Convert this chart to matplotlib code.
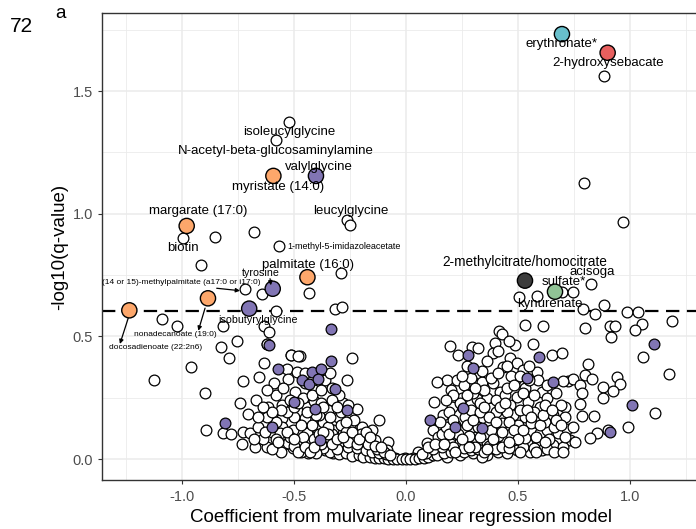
import matplotlib
matplotlib.use("Agg")
import matplotlib.pyplot as plt
from matplotlib.patches import Rectangle

plt.rcParams['font.family'] = ['Liberation Sans', 'DejaVu Sans']

# ---------------- data ----------------
white_x = [0.882, 0.793, 0.967, -0.524, -0.580, -0.997, -0.851, -0.677, -0.566, -0.262, -0.250,
           -0.915, -0.292, -0.719, -0.644, -0.434, -0.580, -0.317, -0.287, -1.088, -1.022, -0.816,
           -0.632, -0.610, -0.753, -0.622, -0.826, -0.792, -0.513, -0.473, -0.960, -1.124, -0.897,
           -0.894, -0.633,
           0.695, 0.747, 0.824, 0.506, 0.583, 0.792, 0.884, 0.844, 0.985, 1.037, 1.052, 1.189, 0.531,
           0.613, 0.799, 0.911, 0.933, 1.020, 0.417, 0.428, 0.915,
           0.397, 0.196, 0.234, 0.293, 0.323, 0.390, 0.487, 0.568, 0.650, 0.435, 0.464, 0.494, 0.524,
           0.182, 0.226, 0.301, 0.338, 0.390, 0.420, 0.487, 0.583, 0.591, 0.531, 0.606, 0.494, 0.546,
           0.315, 0.204, 0.375, 0.464, 0.598, 0.658, 0.167, 0.263, 0.345, 0.420, 0.479, 0.531, 0.249,
           0.301, 0.390, 0.449, 0.509, 0.561, 0.598, 0.628, 0.680, 0.196, 0.271, 0.330, 0.420, 0.472,
           0.539, 0.598, 0.658, 0.167, 0.241, 0.301, 0.360, 0.412, 0.449, 0.494, 0.554, 0.606, 0.182,
           0.338,
           0.695, 0.814, 0.725, 0.747, 0.799, 0.832, 0.777, 0.881, 0.943, 0.955, 0.923, 0.784, 0.878,
           0.777, 0.710, 1.112, 0.710, 0.784, 0.839, 0.993, 0.717, 0.747, 0.851, 0.903, 0.821, 0.732,
           0.702, 0.754, 1.060, 1.174, 0.702,
           0.137, 0.125, 0.055, 0.092, 0.122, 0.115, 0.144, 0.033,
           -0.622, -0.515, -0.481, -0.530, -0.488, -0.726, -0.656, -0.589, -0.525, -0.362, -0.741,
           -0.704, -0.670, -0.615, -0.555, -0.496, -0.443, -0.411, -0.555, -0.555, -0.815, -0.783,
           -0.726, -0.696, -0.733, -0.674, -0.619, -0.600, -0.548, -0.503, -0.503, -0.473, -0.443,
           -0.436, -0.399, -0.369, -0.362, -0.562, -0.525, -0.417, -0.451,
           -0.240, -0.265, -0.339, -0.332, -0.280, -0.220, -0.302, -0.119, -0.325, -0.250, -0.198,
           -0.153, -0.250, -0.190, -0.138, -0.079, -0.287, -0.228, -0.175, -0.124, -0.049, -0.004,
           -0.325, -0.086,
           -0.34, -0.30, -0.27, -0.24, -0.21, -0.19, -0.16, -0.14, -0.12, -0.10, -0.08, -0.06, -0.04,
           -0.02, 0.00, 0.02, 0.04, 0.06, 0.08, 0.10, 0.12, 0.14, 0.17, 0.20, 0.23, 0.26, 0.29, 0.32,
           0.35, 0.38, -0.37, -0.40, -0.45, -0.50,
           -0.30, -0.26, -0.22, -0.18, -0.15, -0.12, -0.09, 0.09, 0.12, 0.16, 0.20, 0.24, 0.28, 0.31,
           0.36, 0.40, 0.44, -0.35, -0.33, -0.29, -0.27, -0.23,
           0.21, 0.26, 0.31, 0.37, 0.40, 0.43, 0.46, 0.52, 0.57, 0.63, 0.23, 0.28, 0.35, 0.41, 0.47,
           0.53, 0.22, 0.27, 0.32, 0.37, 0.43, 0.50, 0.56, 0.62, 0.19, 0.29, 0.33, 0.40, 0.45, 0.51,
           0.57, 0.25, 0.30, 0.36, 0.40, 0.44, 0.52, 0.57, 0.63, 0.20, 0.26, 0.35, 0.45, 0.47, 0.55,
           0.63, 0.67, 0.69, 0.66, 0.64, 0.71,
           -0.38, -0.41, -0.46, -0.52, -0.58, -0.64, -0.35, -0.39, -0.42, -0.47, -0.50, -0.53, -0.58,
           -0.62, -0.66, -0.35, -0.38, -0.46, -0.50, -0.58, -0.62, -0.41, -0.45, -0.55, -0.30, -0.26,
           -0.29, -0.23, -0.27, -0.20, -0.17, -0.30, -0.35, -0.40, -0.47, -0.56, -0.31, -0.26, -0.22,
           -0.13, -0.10, -0.07, 0.07, 0.10, 0.13, 0.16, 0.18, 0.15,
           0.17, 0.19, 0.21, 0.24, 0.27, 0.29, 0.31, 0.33, 0.35, 0.37, 0.38, 0.40, 0.42, 0.44, 0.46,
           0.48, 0.50, 0.52, 0.54, 0.56, 0.58, 0.60, 0.61, 0.62, 0.65, 0.67, 0.69, 0.66, 0.70, 0.62,
           0.58, 0.51, 0.46, 0.43, 0.39, 0.36, 0.33, 0.28, 0.25, 0.22, 0.30, 0.34, 0.38, 0.41, 0.45,
           0.48, 0.51, 0.55, 0.27, 0.25, 0.21, 0.18, 0.46, 0.41, 0.36,
           -0.60, -0.57, -0.53, -0.50, -0.48, -0.45, -0.43, -0.41, -0.39, -0.37, -0.33, -0.31, -0.28,
           -0.24, -0.21, -0.18, -0.16, -0.14, -0.11, -0.34, -0.37, -0.40, -0.44, -0.48, -0.52, -0.56,
           -0.60, -0.64, -0.45, -0.42, -0.38, -0.33, -0.31, -0.68, -0.63, -0.66]
white_y = [1.561, 1.126, 0.966, 1.375, 1.300, 0.901, 0.906, 0.925, 0.868, 0.975, 0.955,
           0.791, 0.760, 0.692, 0.671, 0.675, 0.605, 0.611, 0.619, 0.569, 0.542, 0.542,
           0.542, 0.518, 0.481, 0.468, 0.455, 0.410, 0.423, 0.420, 0.374, 0.322, 0.268,
           0.118, 0.393,
           0.682, 0.682, 0.713, 0.662, 0.664, 0.610, 0.628, 0.591, 0.600, 0.600, 0.550, 0.564, 0.546,
           0.542, 0.532, 0.542, 0.542, 0.525, 0.522, 0.510, 0.496,
           0.472, 0.461, 0.424, 0.458, 0.451, 0.431, 0.465, 0.469, 0.424, 0.376, 0.410, 0.390, 0.363,
           0.322, 0.322, 0.315, 0.315, 0.309, 0.274, 0.322, 0.356, 0.322, 0.288, 0.274, 0.254, 0.234,
           0.243, 0.213, 0.207, 0.220, 0.213, 0.179, 0.179, 0.170, 0.166, 0.172, 0.179, 0.172, 0.118,
           0.118, 0.111, 0.118, 0.105, 0.111, 0.105, 0.118, 0.105, 0.077, 0.071, 0.064, 0.064, 0.071,
           0.064, 0.064, 0.057, 0.023, 0.016, 0.023, 0.016, 0.030, 0.023, 0.037, 0.030, 0.037, 0.009,
           0.009,
           0.431, 0.387, 0.319, 0.325, 0.342, 0.325, 0.302, 0.295, 0.336, 0.306, 0.277, 0.268, 0.247,
           0.224, 0.211, 0.189, 0.170, 0.175, 0.175, 0.132, 0.121, 0.129, 0.105, 0.118, 0.084, 0.077,
           0.050, 0.071, 0.415, 0.345, 0.318,
           0.315, 0.234, 0.030, 0.064, 0.118, 0.016, 0.091, 0.003,
           0.469, 0.424, 0.420, 0.366, 0.356, 0.319, 0.333, 0.308, 0.325, 0.322, 0.230,
           0.182, 0.241, 0.213, 0.220, 0.274, 0.213, 0.238, 0.166, 0.132, 0.105, 0.100,
           0.111, 0.105, 0.061, 0.048, 0.048, 0.111, 0.057, 0.118, 0.043, 0.064, 0.105,
           0.023, 0.125, 0.152, 0.037, 0.105, 0.064, 0.166, 0.166,
           0.410, 0.322, 0.349, 0.288, 0.230, 0.203, 0.170, 0.159, 0.118, 0.132, 0.132,
           0.118, 0.091, 0.084, 0.077, 0.071, 0.043, 0.023, 0.020, 0.016, 0.003, 0.003,
           0.023, 0.037,
           0.030, 0.020, 0.025, 0.012, 0.018, 0.008, 0.010, 0.004, 0.006, 0.003, 0.002, 0.001, 0.001,
           0.000, 0.000, 0.001, 0.002, 0.004, 0.006, 0.010, 0.015, 0.018, 0.025, 0.030, 0.035, 0.028,
           0.035, 0.040, 0.030, 0.045, 0.045, 0.050, 0.040, 0.055,
           0.060, 0.050, 0.045, 0.035, 0.030, 0.025, 0.020, 0.025, 0.040, 0.050, 0.060, 0.070, 0.080,
           0.090, 0.070, 0.090, 0.080, 0.080, 0.100, 0.140, 0.110, 0.090,
           0.050, 0.045, 0.050, 0.055, 0.040, 0.050, 0.045, 0.050, 0.045, 0.040, 0.100, 0.095, 0.100,
           0.095, 0.100, 0.085, 0.140, 0.140, 0.130, 0.140, 0.145, 0.140, 0.145, 0.150, 0.190, 0.200,
           0.190, 0.190, 0.190, 0.200, 0.190, 0.250, 0.270, 0.250, 0.240, 0.260, 0.270, 0.260, 0.250,
           0.280, 0.300, 0.280, 0.290, 0.340, 0.320, 0.300, 0.270, 0.220, 0.130, 0.080, 0.090,
           0.060, 0.080, 0.090, 0.090, 0.080, 0.080, 0.130, 0.180, 0.140, 0.140, 0.170, 0.190, 0.150,
           0.170, 0.130, 0.200, 0.230, 0.250, 0.210, 0.260, 0.280, 0.280, 0.310, 0.290, 0.260, 0.220,
           0.190, 0.160, 0.150, 0.100, 0.060, 0.070, 0.100, 0.025, 0.030, 0.030, 0.040, 0.070, 0.060,
           0.040, 0.030, 0.015, 0.020, 0.050, 0.060, 0.100, 0.130, 0.150,
           0.060, 0.100, 0.160, 0.230, 0.260, 0.330, 0.290, 0.230, 0.210, 0.170, 0.120, 0.150, 0.210,
           0.230, 0.150, 0.120, 0.080, 0.120, 0.200, 0.170, 0.090, 0.140, 0.180, 0.220, 0.200, 0.160,
           0.140, 0.030, 0.030, 0.070, 0.030, 0.030, 0.070, 0.110, 0.080, 0.040, 0.090, 0.050, 0.080,
           0.030, 0.160, 0.360, 0.330, 0.350, 0.380, 0.300, 0.340, 0.380, 0.380, 0.340, 0.260, 0.240,
           0.480, 0.440, 0.400,
           0.040, 0.070, 0.110, 0.080, 0.030, 0.050, 0.030, 0.050, 0.100, 0.110, 0.060, 0.080, 0.090,
           0.110, 0.080, 0.110, 0.090, 0.055, 0.050, 0.170, 0.210, 0.180, 0.190, 0.230, 0.240, 0.200,
           0.190, 0.210, 0.350, 0.260, 0.280, 0.240, 0.210, 0.080, 0.110, 0.170]

purple_x = [-0.612, -0.573, -0.421, -0.381, -0.335, -0.335, -0.466, -0.433, -0.391, -0.499, -0.406,
            -0.600, -0.808, -0.384, -0.317, -0.265, 0.107, 0.278, 0.594, 0.301, 0.539, 0.658,
            0.256, 0.219, 0.338, 1.107, 1.010, 0.911]
purple_y = [0.465, 0.367, 0.356, 0.366, 0.401, 0.531, 0.322, 0.306, 0.325, 0.234, 0.203,
            0.132, 0.145, 0.077, 0.284, 0.200, 0.159, 0.424, 0.415, 0.370, 0.329, 0.315,
            0.207, 0.132, 0.125, 0.467, 0.219, 0.109]

# highlighted metabolites
hl_names = ["erythronate*", "2-hydroxysebacate", "myristate (14:0)", "valylglycine",
            "margarate (17:0)", "palmitate (16:0)", "tyrosine",
            "(14 or 15)-methylpalmitate (a17:0 or i17:0)", "docosadienoate (22:2n6)",
            "isobutyrylglycine", "2-methylcitrate/homocitrate", "sulfate*"]
hl_x = [0.696, 0.900, -0.592, -0.402, -0.979, -0.440, -0.595, -0.884, -1.235, -0.700, 0.531, 0.665]
hl_y = [1.732, 1.656, 1.154, 1.154, 0.950, 0.741, 0.694, 0.655, 0.606, 0.613, 0.727, 0.682]
hl_colors = ['#68BFCB', '#E75F5E', '#FDA76B', '#8175B4', '#FDA76B', '#FDA76B', '#8175B4',
             '#FDA76B', '#FDA76B', '#8175B4', '#3C3C3C', '#90C295']

# text labels: text, x, y, size
lab_text = ["erythronate*", "2-hydroxysebacate", "isoleucylglycine", "N-acetyl-beta-glucosaminylamine",
            "valylglycine", "myristate (14:0)", "margarate (17:0)", "leucylglycine", "biotin",
            "1-methyl-5-imidazoleacetate", "palmitate (16:0)", "tyrosine",
            "(14 or 15)-methylpalmitate (a17:0 or i17:0)", "isobutyrylglycine",
            "nonadecanoate (19:0)", "docosadienoate (22:2n6)", "2-methylcitrate/homocitrate",
            "acisoga", "sulfate*", "kynurenate"]
lab_x = [0.696, 0.900, -0.522, -0.582, -0.388, -0.570, -0.929, -0.246, -0.997, -0.278, -0.438,
         -0.647, -1.004, -0.662, -1.031, -1.117, 0.531, 0.829, 0.702, 0.643]
lab_y = [1.691, 1.616, 1.333, 1.257, 1.192, 1.108, 1.011, 1.012, 0.859, 0.866, 0.791, 0.757,
         0.720, 0.567, 0.506, 0.455, 0.802, 0.764, 0.723, 0.632]
lab_size = [9.5, 9.5, 9.5, 9.5, 9.5, 9.5, 9.5, 9.5, 9.5, 6.5, 9.5, 7.7, 6.0, 7.7, 6.0, 6.0,
            9.8, 9.5, 9.5, 9.5]

# arrows (tail -> head)
arr_x0 = [-1.240, -0.897, -0.845, -0.607]
arr_y0 = [0.574, 0.615, 0.696, 0.735]
arr_x1 = [-1.277, -0.927, -0.741, -0.603]
arr_y1 = [0.469, 0.523, 0.686, 0.708]

threshold = 0.602
xticks = [-1.0, -0.5, 0.0, 0.5, 1.0]
xtick_labels = ["-1.0", "-0.5", "0.0", "0.5", "1.0"]
yticks = [0.0, 0.5, 1.0, 1.5]
ytick_labels = ["0.0", "0.5", "1.0", "1.5"]

# ---------------- figure ----------------
W, H = 696, 529
fig = plt.figure(figsize=(W / 100, H / 100), dpi=100)
left, right, top, bottom = 102, 699.5, 13, 480
ax = fig.add_axes([left / W, 1 - bottom / H, (right - left) / W, (bottom - top) / H])

ax.set_xlim(-1.357, 1.310)
ax.set_ylim(-0.0856, 1.818)

ax.set_xticks(xticks)
ax.set_xticklabels(xtick_labels)
ax.set_yticks(yticks)
ax.set_yticklabels(ytick_labels)
ax.set_xticks([-1.25, -0.75, -0.25, 0.25, 0.75, 1.25], minor=True)
ax.set_yticks([0.25, 0.75, 1.25, 1.75], minor=True)
ax.grid(which='major', color='#EBEBEB', lw=1.1, zorder=0)
ax.grid(which='minor', color='#EBEBEB', lw=0.6, zorder=0)
ax.set_axisbelow(True)
ax.tick_params(which='minor', length=0)
ax.tick_params(which='major', length=3, width=0.8, color='#333333', labelcolor='#4D4D4D',
               labelsize=10.5)
ax.tick_params(axis='x', which='major', pad=4.5)
ax.tick_params(axis='y', which='major', pad=3.5)
for s in ax.spines.values():
    s.set_color('#333333')
    s.set_linewidth(1.0)

ax.axhline(threshold, color='black', lw=1.6, linestyle=(0, (6.0, 3.4)), zorder=1)

ax.scatter(white_x, white_y, s=60, facecolor='white', edgecolor='black', linewidth=0.9, zorder=2)
ax.scatter(purple_x, purple_y, s=60, facecolor='#8175B4', edgecolor='black', linewidth=0.9, zorder=3)
ax.scatter(hl_x, hl_y, s=120, c=hl_colors, edgecolor='black', linewidth=1.0, zorder=4)

for t, x, y, sz in zip(lab_text, lab_x, lab_y, lab_size):
    ax.text(x, y, t, fontsize=sz, ha='center', va='center', color='black', zorder=5)

for x0, y0, x1, y1 in zip(arr_x0, arr_y0, arr_x1, arr_y1):
    ax.annotate('', xy=(x1, y1), xytext=(x0, y0),
                arrowprops=dict(arrowstyle='-|>', lw=0.9, color='black', mutation_scale=6,
                                shrinkA=0, shrinkB=0), zorder=5)

ax.set_xlabel("Coefficient from mulvariate linear regression model", fontsize=13.5, labelpad=3.5)
ax.set_ylabel("-log10(q-value)", fontsize=13.5, labelpad=3)

fig.text(10 / W, 1 - 32 / H, "72", fontsize=15, va='baseline', ha='left')
fig.patches.append(Rectangle((36 / W, 1 - 40 / H), 15 / W, 35 / H, transform=fig.transFigure,
                             facecolor='white', edgecolor='none', zorder=10))
fig.text(55 / W, 1 - 18 / H, "a", fontsize=13.5, va='baseline', ha='left')

fig.savefig("out.png", dpi=100)
